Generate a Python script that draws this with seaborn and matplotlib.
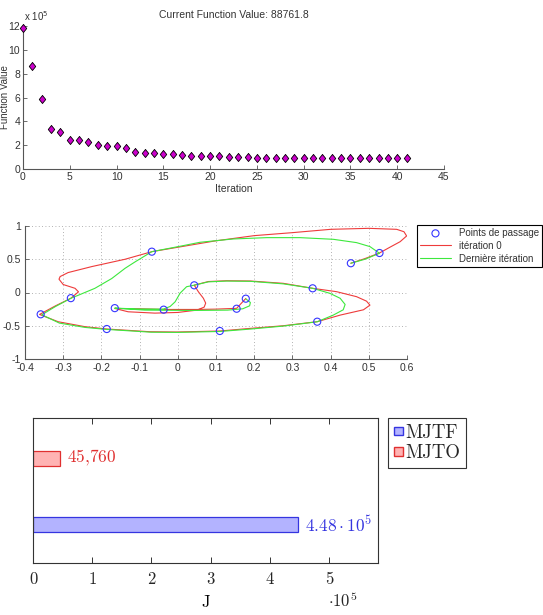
import matplotlib
matplotlib.use('Agg')
import matplotlib.pyplot as plt
from matplotlib.ticker import FuncFormatter
from matplotlib.patches import Patch
import seaborn as sns
import pandas as pd

# --- données : valeur de la fonction coût par itération ---
iterations = list(range(42))
func_values = [11.85e5, 8.68e5, 5.91e5, 3.38e5, 3.07e5, 2.43e5, 2.42e5, 2.23e5,
               1.98e5, 1.96e5, 1.90e5, 1.73e5, 1.39e5, 1.38e5, 1.31e5, 1.28e5,
               1.22e5, 1.17e5, 1.11e5, 1.10e5, 1.08e5, 1.07e5, 1.03e5, 1.00e5,
               0.97e5, 0.96e5, 0.95e5, 0.94e5, 0.935e5, 0.93e5, 0.925e5, 0.92e5,
               0.915e5, 0.91e5, 0.905e5, 0.90e5, 0.898e5, 0.895e5, 0.893e5,
               0.891e5, 0.889e5, 0.887618e5]
x_ticks_top = [0, 5, 10, 15, 20, 25, 30, 35, 40, 45]
y_ticks_top = [0, 2e5, 4e5, 6e5, 8e5, 10e5, 12e5]

# --- trajectoires ---
red_x = [0.453, 0.49, 0.528, 0.555, 0.582, 0.599, 0.592, 0.573, 0.5, 0.4, 0.3,
         0.2, 0.097, 0.01, -0.068, -0.138, -0.225, -0.287, -0.308, -0.311, -0.30,
         -0.269, -0.26, -0.28, -0.32, -0.362, -0.313, -0.243, -0.186, -0.073,
         -0.003, 0.11, 0.189, 0.276, 0.365, 0.425, 0.486, 0.503, 0.494, 0.468,
         0.416, 0.353, 0.276, 0.19, 0.128, 0.08, 0.043, 0.054, 0.067, 0.073,
         0.069, 0.05, 0.0, -0.06, -0.13, -0.165, -0.1, -0.035, 0.05, 0.1, 0.154,
         0.178]
red_y = [0.44, 0.51, 0.594, 0.68, 0.764, 0.85, 0.914, 0.95, 0.965, 0.95, 0.90,
         0.855, 0.775, 0.69, 0.614, 0.50, 0.39, 0.30, 0.24, 0.20, 0.12,
         0.063, 0.01, -0.087, -0.20, -0.33, -0.44, -0.514, -0.549, -0.59,
         -0.594, -0.579, -0.54, -0.50, -0.439, -0.34, -0.26, -0.19, -0.13, -0.063,
         0.012, 0.063, 0.138, 0.173, 0.177, 0.165, 0.11, 0.01, -0.087, -0.16,
         -0.22, -0.265, -0.30, -0.31, -0.29, -0.24, -0.245, -0.255, -0.255, -0.25,
         -0.238, -0.09]
green_x = [0.453, 0.49, 0.528, 0.503, 0.468, 0.407, 0.32, 0.233, 0.145, 0.058,
           0.01, -0.068, -0.112, -0.138, -0.173, -0.217, -0.26, -0.28, -0.32,
           -0.356, -0.31, -0.243, -0.186, -0.07, 0.0, 0.11, 0.19, 0.276, 0.365,
           0.407, 0.433, 0.438, 0.425, 0.398, 0.353, 0.276, 0.19, 0.128, 0.08,
           0.043, 0.023, 0.006, -0.007, -0.02, -0.038, -0.103, -0.165, -0.086,
           0.045, 0.13, 0.17, 0.188, 0.19, 0.178]
green_y = [0.44, 0.50, 0.59, 0.69, 0.75, 0.80, 0.825, 0.825, 0.805, 0.755,
           0.70, 0.614, 0.46, 0.364, 0.21, 0.063, -0.04, -0.087, -0.21,
           -0.335, -0.46, -0.525, -0.555, -0.597, -0.60, -0.586, -0.55, -0.505,
           -0.44, -0.34, -0.26, -0.18, -0.087, -0.012, 0.063, 0.13, 0.168, 0.172,
           0.16, 0.11, 0.087, -0.01, -0.14, -0.21, -0.25, -0.248, -0.235, -0.265,
           -0.27, -0.265, -0.245, -0.2, -0.15, -0.095]
way_x = [0.453, 0.528, -0.068, -0.28, -0.359, -0.186, 0.11, 0.365, 0.353, 0.043,
         -0.037, -0.165, 0.154, 0.178]
way_y = [0.44, 0.594, 0.614, -0.085, -0.328, -0.549, -0.579, -0.439, 0.063, 0.108,
         -0.258, -0.235, -0.244, -0.093]

# --- comparaison des coûts ---
methods = ['MJTO', 'MJTF']
j_values = [45760, 448000]
bar_texts = [r'$45{,}760$', r'$4.48\cdot10^{5}$']

# --- style ---
sns.set_theme(style='white')
plt.rcParams.update({
    'font.family': ['Liberation Sans', 'DejaVu Sans'],
    'axes.unicode_minus': False,
    'mathtext.fontset': 'cm',
    'xtick.direction': 'in',
    'ytick.direction': 'in',
})

fig = plt.figure(figsize=(5.43, 6.15), dpi=100)
W, H = 543, 615

def rect(x0, y0, x1, y1):
    return [x0 / W, 1 - y1 / H, (x1 - x0) / W, (y1 - y0) / H]

txt = '#333333'
axc = '#555555'

# 1) évolution de la fonction coût
ax1 = fig.add_axes(rect(23, 26, 444, 169))
diamond = [(0, 1), (0.8, 0), (0, -1), (-0.8, 0), (0, 1)]
sns.scatterplot(x=iterations, y=func_values, marker=diamond, s=34, color='#cc00cc',
                edgecolor='black', linewidth=0.6, ax=ax1, zorder=3, clip_on=False)
ax1.set_xlim(0, 45)
ax1.set_ylim(0, 12e5)
ax1.set_xticks(x_ticks_top)
ax1.set_yticks(y_ticks_top)
ax1.yaxis.set_major_formatter(FuncFormatter(lambda v, p: f'{v / 1e5:g}'))
for s in ['top', 'right']:
    ax1.spines[s].set_visible(False)
for s in ['left', 'bottom']:
    ax1.spines[s].set_color(axc)
    ax1.spines[s].set_linewidth(0.8)
ax1.tick_params(labelsize=7.5, length=3, width=0.6, color=axc, labelcolor=txt, pad=2,
                bottom=True, left=True)
ax1.set_title('Current Function Value: 88761.8', fontsize=7.5, color=txt, pad=5.5)
ax1.set_xlabel('Iteration', fontsize=7.5, color=txt, labelpad=1.5)
ax1.set_ylabel('')
fig.text(5 / W, 1 - 97 / H, 'Function Value', rotation=90, ha='center', va='center',
         fontsize=7, color=txt)
fig.text(24 / W, 1 - 21 / H, r'x 10$^5$', fontsize=7, color=txt,
         math_fontfamily='dejavusans', va='baseline')

# 2) trajectoires
ax2 = fig.add_axes(rect(25, 226, 407, 359))
sns.lineplot(x=red_x, y=red_y, sort=False, estimator=None, color='#ee3b3b', lw=0.8,
             ax=ax2, label='itération 0')
sns.lineplot(x=green_x, y=green_y, sort=False, estimator=None, color='#3de83d', lw=0.8,
             ax=ax2, label='Dernière itération')
sns.scatterplot(x=way_x, y=way_y, marker='o', s=26, facecolors='none',
                edgecolor='#3535ff', linewidth=0.8, ax=ax2, zorder=4,
                label='Points de passage')
ax2.set_xlim(-0.4, 0.6)
ax2.set_ylim(-1, 1)
ax2.set_xticks([-0.4, -0.3, -0.2, -0.1, 0, 0.1, 0.2, 0.3, 0.4, 0.5, 0.6])
ax2.set_yticks([-1, -0.5, 0, 0.5, 1])
ax2.xaxis.set_major_formatter(FuncFormatter(lambda v, p: f'{v:g}'))
ax2.yaxis.set_major_formatter(FuncFormatter(lambda v, p: f'{v:g}'))
ax2.grid(True, linestyle=(0, (1, 3)), color='#999999', linewidth=0.6)
for s in ['top', 'right']:
    ax2.spines[s].set_visible(False)
for s in ['left', 'bottom']:
    ax2.spines[s].set_color(axc)
    ax2.spines[s].set_linewidth(0.8)
ax2.tick_params(labelsize=7.5, length=3, width=0.6, color=axc, labelcolor=txt, pad=3,
                bottom=True, left=True)
handles, labels = ax2.get_legend_handles_labels()
order = ['Points de passage', 'itération 0', 'Dernière itération']
hmap = dict(zip(labels, handles))
leg = ax2.legend([hmap[k] for k in order], order, loc='upper left',
                 bbox_to_anchor=(417 / W, 1 - 225 / H), bbox_transform=fig.transFigure,
                 fontsize=7, frameon=True, fancybox=False, edgecolor='black',
                 framealpha=1, borderaxespad=0, handlelength=3.2, labelspacing=0.3,
                 borderpad=0.3, handletextpad=0.8)
leg.get_frame().set_linewidth(0.8)
for t in leg.get_texts():
    t.set_color(txt)

# 3) comparaison J
ax3 = fig.add_axes(rect(33, 418, 378, 563))
df = pd.DataFrame({'method': methods, 'J': j_values})
fills = {'MJTO': '#ffb3b3', 'MJTF': '#b3b3ff'}
edges = {'MJTO': '#e03030', 'MJTF': '#3535e0'}
sns.barplot(data=df, x='J', y='method', hue='method', order=methods, hue_order=methods,
            palette=fills, orient='h', width=0.227, saturation=1, legend=False, ax=ax3)
for cont, m, lab in zip(ax3.containers, methods, bar_texts):
    for bar in cont:
        bar.set_edgecolor(edges[m])
        bar.set_linewidth(0.9)
    ax3.bar_label(cont, labels=[lab], padding=5, color=edges[m], fontsize=12.5)
ax3.set_xlim(0, 5.83e5)
ax3.set_ylim(1.59, -0.606)
ax3.set_xticks([0, 1e5, 2e5, 3e5, 4e5, 5e5])
ax3.xaxis.set_major_formatter(FuncFormatter(lambda v, p: f'{v / 1e5:g}'))
ax3.set_yticks([])
ax3.set_ylabel('')
ax3.set_xlabel('J', fontsize=12, fontfamily='cmr10', labelpad=6, color='black')
ax3.tick_params(axis='x', labelsize=12, labelfontfamily='cmr10', length=4, width=0.7,
                color='#333333', top=True, bottom=True, direction='in', pad=6)
for s in ax3.spines.values():
    s.set_visible(True)
    s.set_color('#333333')
    s.set_linewidth(0.8)
ax3.text((328 - 33) / 345, (563 - 600) / 145, r'$\cdot10^{5}$', transform=ax3.transAxes,
         fontsize=12, va='center', ha='left')
leg3 = ax3.legend([Patch(facecolor=fills['MJTF'], edgecolor=edges['MJTF']),
                   Patch(facecolor=fills['MJTO'], edgecolor=edges['MJTO'])],
                  ['MJTF', 'MJTO'], loc='upper left',
                  bbox_to_anchor=(388 / W, 1 - 418 / H), bbox_transform=fig.transFigure,
                  prop={'family': 'cmr10', 'size': 13.5}, fancybox=False,
                  edgecolor='#333333', framealpha=1, borderaxespad=0,
                  handlelength=0.5, handleheight=0.3, handletextpad=0.15,
                  labelspacing=0.15, borderpad=0.3)
leg3.get_frame().set_linewidth(0.8)

fig.savefig('out.png', dpi=100)
